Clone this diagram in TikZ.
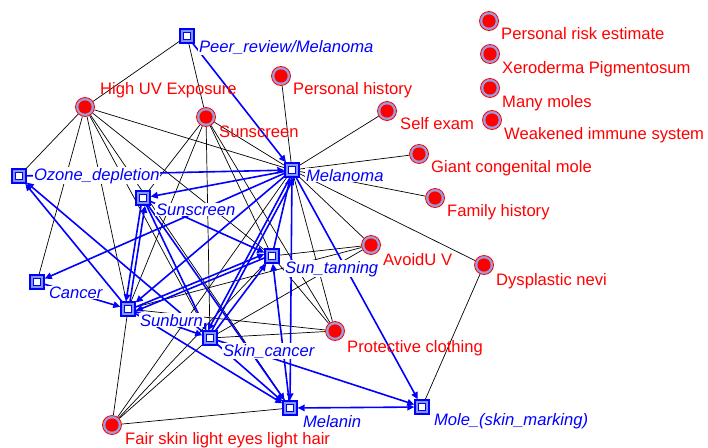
\documentclass[tikz,border=0pt]{standalone}
\usepackage{fontspec}
\setmainfont{Liberation Sans}
\usetikzlibrary{arrows.meta}
\definecolor{ringc}{RGB}{150,160,225}
\definecolor{sqfill}{RGB}{130,150,245}
\pgfdeclarelayer{bglayer}
\pgfdeclarelayer{edgelayer}
\pgfdeclarelayer{labellayer}
\pgfsetlayers{bglayer,edgelayer,labellayer,main}
\begin{document}
\begin{tikzpicture}[x=1pt,y=-1pt,
  sq/.style={rectangle, draw=blue, line width=1.4pt, fill=sqfill, minimum size=14pt, inner sep=0pt,
    path picture={\draw[blue, line width=0.9pt, fill=white]
      ([shift={(-3.6pt,-3.6pt)}]path picture bounding box.center) rectangle
      ([shift={(3.6pt,3.6pt)}]path picture bounding box.center);}},
  circ/.style={circle, draw=red, line width=0.8pt, fill=ringc, minimum size=19pt, inner sep=0pt,
    path picture={\fill[red] (path picture bounding box.center) circle (6.6pt);}},
  blbl/.style={text=blue, font=\fontsize{16.6}{18}\selectfont\itshape, fill=white, inner sep=0.8pt, anchor=base west},
  rlbl/.style={text=red, font=\fontsize{16.6}{18}\selectfont, inner sep=0pt, anchor=base west},
  lnk/.style={black, line width=0.7pt},
  arr/.style={blue, line width=1.6pt, -{Triangle[length=7pt,width=6.5pt]}},
  darr/.style={blue, line width=1.6pt, {Triangle[length=7pt,width=6.5pt]}-{Triangle[length=7pt,width=6.5pt]}}
]
\begin{pgfonlayer}{bglayer}
\fill[white] (0,0) rectangle (708,447);
\end{pgfonlayer}
\useasboundingbox (0,0) rectangle (708,447);

% concept boxes
\node[sq] (peer) at (187,36) {};
\node[sq] (melanoma) at (292,170) {};
\node[sq] (ozone) at (19,176) {};
\node[sq] (sunscr) at (143,198) {};
\node[sq] (suntan) at (272,256) {};
\node[sq] (cancer) at (37,282) {};
\node[sq] (sunburn) at (128,309) {};
\node[sq] (skinc) at (210,338) {};
\node[sq] (melanin) at (290,408) {};
\node[sq] (mole) at (422,407) {};

% factor dots
\node[circ] (hiuv) at (85,107) {};
\node[circ] (sunc) at (206,117) {};
\node[circ] (phist) at (281,76) {};
\node[circ] (selfex) at (387,111) {};
\node[circ] (giant) at (419,154) {};
\node[circ] (famh) at (435,198) {};
\node[circ] (avoid) at (371,245) {};
\node[circ] (dysp) at (484,265) {};
\node[circ] (protect) at (335,331) {};
\node[circ] (fair) at (112,425) {};
\node[circ] (risk) at (489,21) {};
\node[circ] (xero) at (490,54) {};
\node[circ] (moles) at (490,88) {};
\node[circ] (weak) at (492,120) {};

% labels
\begin{pgfonlayer}{labellayer}
\node[blbl] (lpeer) at (198,52) {Peer\_review/Melanoma};
\node[blbl] (lmelanoma) at (305,181) {Melanoma};
\node[blbl] (lozone) at (33,180) {Ozone\_depletion};
\node[blbl] (lsunscr) at (155,215) {Sunscreen};
\node[blbl] (lsuntan) at (284,273) {Sun\_tanning};
\node[blbl] (lcancer) at (48,298) {Cancer};
\node[blbl] (lsunburn) at (139,326) {Sunburn};
\node[blbl] (lskinc) at (222,356) {Skin\_cancer};
\node[blbl] (lmelanin) at (302,427) {Melanin};
\node[blbl] (lmole) at (433,425) {Mole\_(skin\_marking)};

\node[rlbl] (lhiuv) at (100,94) {High UV Exposure};
\node[rlbl] (lsunc) at (219,137) {Sunscreen};
\node[rlbl] (lphist) at (293,94) {Personal history};
\node[rlbl] (lselfex) at (400,129) {Self exam};
\node[rlbl] (lgiant) at (431,172) {Giant congenital mole};
\node[rlbl] (lfamh) at (447,216) {Family history};
\node[rlbl] (lavoid) at (383,265) {AvoidU V};
\node[rlbl] (ldysp) at (496,285) {Dysplastic nevi};
\node[rlbl] (lprotect) at (347,352) {Protective clothing};
\node[rlbl] (lfair) at (125,444) {Fair skin light eyes light hair};
\node[rlbl] (lrisk) at (501,39) {Personal risk estimate};
\node[rlbl] (lxero) at (502,73) {Xeroderma Pigmentosum};
\node[rlbl] (lmoles) at (502,107) {Many moles};
\node[rlbl] (lweak) at (504,139) {Weakened immune system};
\end{pgfonlayer}

\begin{pgfonlayer}{edgelayer}
% plain associations
\draw[lnk] (peer) -- (hiuv);
\draw[lnk] (peer) -- (sunc);
\draw[lnk] (hiuv) -- (ozone);
\draw[lnk] (hiuv) -- (cancer);
\draw[lnk] (hiuv) -- (sunburn);
\draw[lnk] (hiuv) -- (skinc);
\draw[lnk] (hiuv) -- (melanin);
\draw[lnk] (hiuv) -- (suntan);
\draw[lnk] (hiuv) -- (melanoma);
\draw[lnk] (sunc) -- (sunscr);
\draw[lnk] (sunc) -- (sunburn);
\draw[lnk] (sunc) -- (skinc);
\draw[lnk] (sunc) -- (suntan);
\draw[lnk] (sunc) -- (melanoma);
\draw[lnk] (sunc) -- (protect);
\draw[lnk] (phist) -- (melanoma);
\draw[lnk] (selfex) -- (melanoma);
\draw[lnk] (giant) -- (melanoma);
\draw[lnk] (famh) -- (melanoma);
\draw[lnk] (dysp) -- (melanoma);
\draw[lnk] (avoid) -- (melanoma);
\draw[lnk] (protect) -- (melanoma);
\draw[lnk] (dysp) -- (mole);
\draw[lnk] (avoid) -- (suntan);
\draw[lnk] (avoid) -- (sunburn);
\draw[lnk] (avoid) -- (skinc);
\draw[lnk] (protect) -- (sunburn);
\draw[lnk] (protect) -- (skinc);
\draw[lnk] (protect) -- (suntan);
\draw[lnk] (fair) -- (sunburn);
\draw[lnk] (fair) -- (skinc);
\draw[lnk] (fair) -- (suntan);
\draw[lnk] (fair) -- (melanin);
\draw[lnk] (fair) -- (melanoma);

% directed influences
\draw[arr] (peer) -- (melanoma);
\draw[arr] (ozone) -- (melanoma);
\draw[arr] (melanoma) -- (sunscr);
\draw[arr] (melanoma) -- (cancer);
\draw[arr] (melanoma) -- (sunburn);
\draw[arr] ([xshift=-2pt]melanoma.south) -- ([xshift=-2pt]skinc.north);
\draw[arr] ([xshift=2pt]skinc.north) -- ([xshift=2pt]melanoma.south);
\draw[arr] (suntan) -- (melanoma);
\draw[arr] (melanoma) -- (melanin);
\draw[arr] (melanoma) -- (mole);
\draw[arr] (melanin) -- (suntan);
\draw[arr] (sunscr) -- (suntan);
\draw[arr] ([xshift=-2pt]sunscr.south) -- ([xshift=-2pt]sunburn.north);
\draw[arr] ([xshift=2pt]sunburn.north) -- ([xshift=2pt]sunscr.south);
\draw[arr] (sunscr) -- (skinc);
\draw[arr] (sunscr) -- (melanin);
\draw[arr] ([yshift=-2pt]suntan.west) -- ([yshift=-2pt]sunburn.east);
\draw[arr] ([yshift=2pt]sunburn.east) -- ([yshift=2pt]suntan.west);
\draw[arr] (skinc) -- (suntan);
\draw[arr] (sunburn) -- (ozone);
\draw[arr] (skinc) -- (ozone);
\draw[arr] (cancer) -- (sunburn);
\draw[arr] (sunburn) -- (skinc);
\draw[arr] (sunburn) -- (melanin);
\draw[arr] (skinc) -- (melanin);
\draw[arr] (skinc) -- (mole);
\draw[darr] (melanin) -- (mole);
\end{pgfonlayer}
\end{tikzpicture}
\end{document}
